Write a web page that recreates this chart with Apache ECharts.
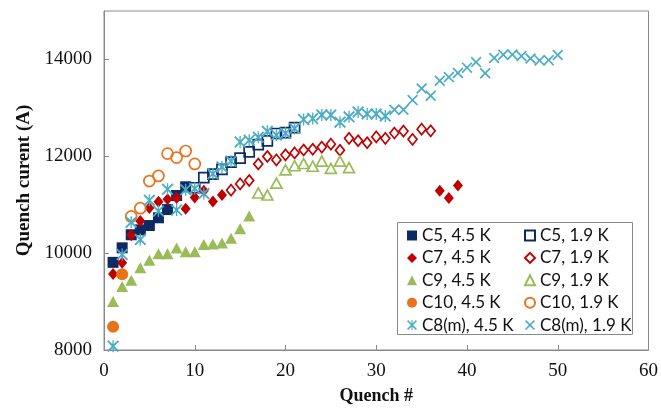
<!DOCTYPE html>
<html>
<head>
<meta charset="utf-8">
<script src="https://cdn.jsdelivr.net/npm/echarts@6/dist/echarts.min.js"></script>
<style>
  html, body { margin: 0; padding: 0; background: #fff; }
  #chart { width: 661px; height: 410px; }
</style>
</head>
<body>
<div id="chart"></div>
<script>
// Quench training history: [quench number, quench current in A]
const c5At45K = [[1,9810],[2,10110],[3,10380],[4,10480],[5,10570],[6,10730],[7,10900],[8,11190],[9,11370]];
const c5At19K = [[10,11350],[11,11560],[12,11630],[13,11730],[14,11880],[15,11960],[16,12090],[17,12240],[18,12320],[19,12470],[20,12490],[21,12590]];
const c7At45K = [[1,9570],[2,9800],[3,10370],[4,10665],[5,10930],[6,11060],[7,11115],[8,11140],[9,10915],[10,11150],[11,11290],[12,11065],[13,11200],[37,11290],[38,11140],[39,11395]];
const c7At19K = [[14,11300],[15,11430],[16,11500],[17,11840],[18,11995],[19,11925],[20,12030],[21,12070],[22,12130],[23,12145],[24,12190],[25,12250],[26,12125],[27,12370],[28,12320],[29,12280],[30,12400],[31,12370],[32,12480],[33,12520],[34,12350],[35,12560],[36,12525]];
const c9At45K = [[1,9000],[2,9310],[3,9440],[4,9700],[5,9855],[6,9990],[7,9990],[8,10105],[9,10030],[10,10030],[11,10180],[12,10190],[13,10210],[14,10305],[15,10505],[16,10765]];
const c9At19K = [[17,11243],[18,11200],[19,11447],[20,11720],[21,11805],[22,11850],[23,11795],[24,11900],[25,11750],[26,11900],[27,11765]];
const c10At45K = [[1,8480],[2,9565]];
const c10At19K = [[3,10758],[4,10928],[5,11488],[6,11594],[7,12055],[8,11973],[9,12109],[10,11843]];
const c8mAt45K = [[1,8080],[2,9973],[3,10640],[4,10280],[5,11090],[6,10870],[7,11320],[8,10890],[9,11310],[10,11333],[11,11230],[12,11640],[13,11780],[14,11900],[15,12295],[16,12330],[17,12395],[18,12515],[19,12440],[20,12475],[21,12575],[22,12760],[23,12780],[24,12855],[25,12855],[26,12705],[27,12815],[28,12915],[29,12875],[30,12875],[31,12830]];
const c8mAt19K = [[32,12960],[33,12960],[34,13160],[35,13400],[36,13250],[37,13560],[38,13635],[39,13720],[40,13830],[41,13945],[42,13715],[43,14030],[44,14095],[45,14100],[46,14070],[47,14020],[48,13980],[49,13985],[50,14090]];

const xTicks = { min: 0, max: 60, interval: 10 };
const yTicks = { min: 8000, max: 15000, interval: 2000 };

const leftNames = ['C5, 4.5 K', 'C7, 4.5 K', 'C9, 4.5 K', 'C10, 4.5 K', 'C8(m), 4.5 K'];
const rightNames = ['C5, 1.9 K', 'C7, 1.9 K', 'C9, 1.9 K', 'C10, 1.9 K', 'C8(m), 1.9 K'];

const NAVY = '#0e2a63', RED = '#c00000', GREEN = '#9bbb59', ORANGE = '#e8731a', CYAN = '#4bacc6';

// Cross and asterisk markers built from filled bars
const CROSS = 'path://M0,2.2L2.2,0L10,7.8L17.8,0L20,2.2L12.2,10L20,17.8L17.8,20L10,12.2L2.2,20L0,17.8L7.8,10Z';
const STAR = CROSS + 'M8.9,0L11.1,0L11.1,20L8.9,20Z';

function filled(name, data, symbol, size, color) {
  return { name, type: 'scatter', data, symbol, symbolSize: size,
    itemStyle: { color, opacity: 1 } };
}
function hollow(name, data, symbol, size, color) {
  return { name, type: 'scatter', data, symbol, symbolSize: size,
    itemStyle: { color: 'rgba(255,255,255,0)', borderColor: color, borderWidth: 1.7, opacity: 1 } };
}

const series = [
  filled('C5, 4.5 K', c5At45K, 'rect', 11, NAVY),
  hollow('C5, 1.9 K', c5At19K, 'rect', 10, NAVY),
  filled('C7, 4.5 K', c7At45K, 'diamond', [10, 12], RED),
  hollow('C7, 1.9 K', c7At19K, 'diamond', [9, 11], RED),
  filled('C9, 4.5 K', c9At45K, 'triangle', [12, 11], GREEN),
  hollow('C9, 1.9 K', c9At19K, 'triangle', [11, 10], GREEN),
  filled('C10, 4.5 K', c10At45K, 'circle', 12, ORANGE),
  hollow('C10, 1.9 K', c10At19K, 'circle', 11, ORANGE),
  filled('C8(m), 4.5 K', c8mAt45K, STAR, 12, CYAN),
  filled('C8(m), 1.9 K', c8mAt19K, CROSS, 11, CYAN)
];

const legendBase = {
  orient: 'vertical', top: 222, itemWidth: 10, itemHeight: 10, itemGap: 5.4,
  textStyle: { fontFamily: 'Lato', fontSize: 17, color: '#111', lineHeight: 17 },
  selectedMode: false
};

const tickLabel = (v) => (v % yTicks.interval === 0 ? String(v) : '');

const chart = echarts.init(document.getElementById('chart'), null, { renderer: 'canvas' });
chart.setOption({
  animation: false,
  backgroundColor: '#fff',
  grid: { left: 104, right: 10, top: 11, bottom: 59, show: true, borderColor: '#8a8a8a', borderWidth: 1 },
  xAxis: {
    type: 'value', min: xTicks.min, max: xTicks.max, interval: xTicks.interval,
    name: 'Quench #', nameLocation: 'middle', nameGap: 37,
    nameTextStyle: { fontFamily: 'Liberation Serif', fontWeight: 'bold', fontSize: 18, color: '#111' },
    axisLine: { show: true, lineStyle: { color: '#8a8a8a', width: 1 } },
    axisTick: { show: true, inside: true, length: 5, lineStyle: { color: '#8a8a8a' } },
    axisLabel: { fontFamily: 'Liberation Serif', fontSize: 19, color: '#111', margin: 12 },
    splitLine: { show: false }
  },
  yAxis: {
    type: 'value', min: yTicks.min, max: yTicks.max, interval: yTicks.interval,
    name: 'Quench curent (A)', nameLocation: 'middle', nameGap: 70,
    nameTextStyle: { fontFamily: 'Liberation Serif', fontWeight: 'bold', fontSize: 19, color: '#111' },
    axisLine: { show: true, lineStyle: { color: '#8a8a8a', width: 1 } },
    axisTick: { show: true, inside: true, length: 5, lineStyle: { color: '#8a8a8a' } },
    axisLabel: { fontFamily: 'Liberation Serif', fontSize: 19, color: '#111', margin: 12,
      showMaxLabel: false, formatter: tickLabel },
    splitLine: { show: false }
  },
  legend: [
    Object.assign({}, legendBase, { left: 402, data: leftNames }),
    Object.assign({}, legendBase, { left: 519, data: rightNames })
  ],
  graphic: [{
    type: 'rect', left: 397, top: 222, z: 0,
    shape: { width: 235, height: 112 },
    style: { fill: '#fff', stroke: '#8a8a8a', lineWidth: 1 }
  }],
  series
});
</script>
</body>
</html>
